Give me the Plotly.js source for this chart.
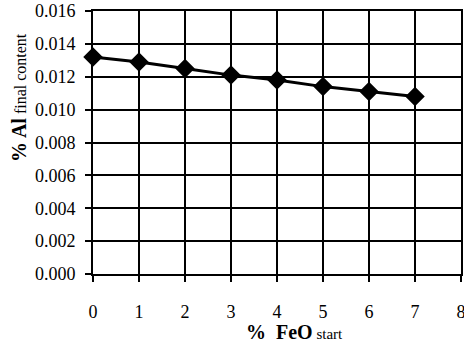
<!DOCTYPE html>
<html>
<head>
<meta charset="utf-8">
<script src="https://cdn.plot.ly/plotly-3.0.1.min.js"></script>
<style>html,body{margin:0;padding:0;background:#fff;}#chart{width:464px;height:346px;}</style>
</head>
<body>
<div id="chart"></div>
<script>
const feoStart = [0, 1, 2, 3, 4, 5, 6, 7];
const alFinal = [0.0132, 0.0129, 0.0125, 0.0121, 0.0118, 0.0114, 0.0111, 0.0108];
const xTicks = [0, 1, 2, 3, 4, 5, 6, 7, 8];
const yTicks = [0, 0.002, 0.004, 0.006, 0.008, 0.010, 0.012, 0.014, 0.016];

const fam = "'Liberation Serif', 'Times New Roman', serif";

Plotly.newPlot('chart', [{
  x: feoStart, y: alFinal, type: 'scatter', mode: 'lines+markers',
  line: {color: '#000', width: 3},
  marker: {symbol: 'diamond', size: 15, color: '#000'},
  showlegend: false, cliponaxis: false
}], {
  width: 464, height: 346,
  margin: {l: 93, r: 3, t: 11, b: 72},
  paper_bgcolor: '#fff', plot_bgcolor: '#fff',
  font: {family: fam, size: 17, color: '#000'},
  xaxis: {
    range: [0, 8], tickvals: xTicks, ticktext: xTicks.map(String),
    showgrid: true, gridcolor: '#000', gridwidth: 2,
    showline: true, linecolor: '#000', linewidth: 2, mirror: true,
    ticks: 'outside', ticklen: 6, tickwidth: 2, tickcolor: '#000',
    ticklabelstandoff: 14, zeroline: false, ticklabeloverflow: 'allow',
    tickfont: {family: fam, size: 18, color: '#000'}
  },
  yaxis: {
    range: [0, 0.016], tickvals: yTicks, ticktext: yTicks.map(v => v.toFixed(3)),
    showgrid: true, gridcolor: '#000', gridwidth: 2,
    showline: true, linecolor: '#000', linewidth: 2, mirror: true,
    ticks: 'outside', ticklen: 6, tickwidth: 2, tickcolor: '#000',
    ticklabelstandoff: 6, zeroline: false,
    tickfont: {family: fam, size: 18, color: '#000'}
  },
  annotations: [
    {xref: 'paper', yref: 'paper', x: (294 - 93) / 368, y: 0, yshift: -(331.7 - 274), xanchor: 'center', yanchor: 'middle',
     showarrow: false, text: '<b>%  FeO</b><span style="font-size:15px"> start</span>',
     font: {family: fam, size: 20, color: '#000'}},
    {xref: 'paper', yref: 'paper', x: 0, xshift: -(93 - 19), y: (274 - 98) / 263, xanchor: 'center', yanchor: 'middle',
     showarrow: false, textangle: -90, text: '<b>% Al</b><span style="font-size:16px"> final content</span>',
     font: {family: fam, size: 20, color: '#000'}}
  ]
}, {displayModeBar: false, staticPlot: true});
</script>
</body>
</html>
